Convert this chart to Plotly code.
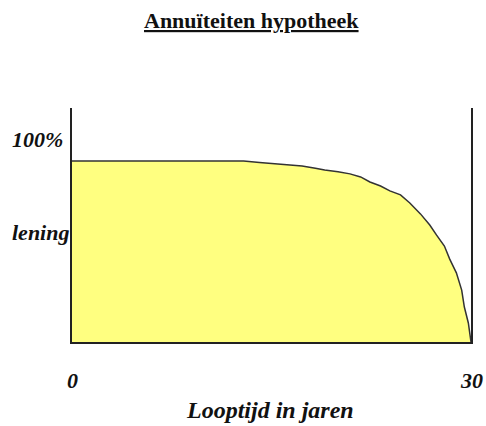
import plotly.graph_objects as go

# Remaining loan (relative height, % scale where the "100%" label sits at 100)
years = [0, 12.9, 14.1, 15.9, 17.3, 18.3, 19.0, 20.0, 20.9, 21.7, 22.4, 23.2, 23.9,
         24.7, 25.4, 26.2, 26.9, 27.4, 28.0, 28.4, 28.9, 29.3, 29.5, 29.8, 30]
balance = [89.6, 89.6, 88.8, 87.8, 87.1, 86.0, 85.1, 84.2, 83.2, 81.7, 79.2, 77.2, 74.8,
           72.8, 68.8, 63.4, 57.9, 53.0, 47.5, 41.0, 34.2, 25.7, 17.3, 9.4, 0]

title_text = "Annuïteiten hypotheek"
x_title = "Looptijd in jaren"
x_tick_vals = [0, 30]
x_tick_text = ["0", "30"]
y_label_vals = [100, 54]
y_label_text = ["100%", "lening"]

serif = "Liberation Serif"
FS = 22

fig = go.Figure()
fig.add_trace(go.Scatter(
    x=years, y=balance, mode="lines", fill="tozeroy",
    fillcolor="#FFFF80", line=dict(color="#333333", width=1.5),
    hoverinfo="skip", showlegend=False,
))

annotations = []
for v, t in zip(x_tick_vals, x_tick_text):
    annotations.append(dict(
        x=v, y=0, xref="x", yref="paper", yshift=-38,
        text=f"<b><i>{t}</i></b>", showarrow=False,
        font=dict(family=serif, size=FS, color="#111111"),
        xanchor="center", yanchor="middle",
    ))

for v, t in zip(y_label_vals, y_label_text):
    annotations.append(dict(
        x=-62 / 399, y=v, xref="paper", yref="y",
        text=f"<b><i>{t}</i></b>", showarrow=False,
        font=dict(family=serif, size=FS, color="#111111"),
        xanchor="left", yanchor="middle",
    ))

annotations.append(dict(
    x=(270 - 72) / 399, y=0, xref="paper", yref="paper", yshift=-68,
    text=f"<b><i>{x_title}</i></b>", showarrow=False,
    font=dict(family=serif, size=24, color="#111111"),
    xanchor="center", yanchor="middle",
))
annotations.append(dict(
    x=(251 - 72) / 399, y=(342 - 20) / 234, xref="paper", yref="paper",
    text=f"<b><u>{title_text}</u></b>", showarrow=False,
    font=dict(family=serif, size=FS, color="#111111"),
    xanchor="center", yanchor="middle",
))

fig.update_layout(
    width=486, height=426,
    margin=dict(l=72, r=15, t=108, b=84),
    paper_bgcolor="white", plot_bgcolor="white",
    xaxis=dict(range=[0, 30], showgrid=False, zeroline=False, showticklabels=False,
               ticks="", showline=True, linecolor="#222222", linewidth=1.5),
    yaxis=dict(range=[0, 115.8], showgrid=False, zeroline=False, showticklabels=False,
               ticks="", showline=True, mirror=True, linecolor="#222222", linewidth=1.5),
    annotations=annotations,
)

fig.write_html("out.html", config={"displayModeBar": False},
               post_script="document.body.style.margin='0';")
